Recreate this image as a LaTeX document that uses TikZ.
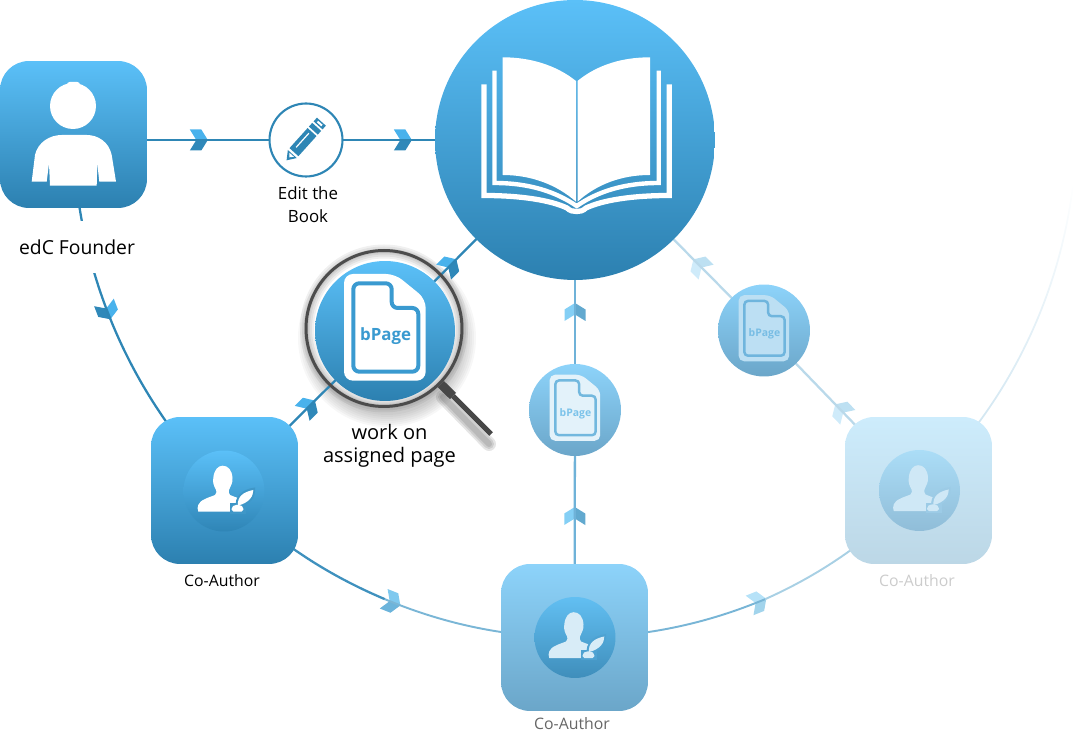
\documentclass[tikz,border=0pt]{standalone}
\usepackage{fontspec}
\setmainfont{Open Sans}
\usetikzlibrary{calc,fadings,decorations.markings}

\pgfdeclarelayer{lensback}
\pgfdeclarelayer{edgeline}
\pgfsetlayers{lensback,edgeline,main}

\definecolor{deeptop}{HTML}{5BC0F8}
\definecolor{deepbot}{HTML}{2C80B0}
\definecolor{midtop}{HTML}{8DD3FA}
\definecolor{midbot}{HTML}{6BA6C9}
\definecolor{palebot}{HTML}{BCD7E6}
\definecolor{paletop}{HTML}{CDECFC}
\definecolor{linedeep}{HTML}{2E86B5}
\definecolor{edgeab}{HTML}{3F91BE}
\definecolor{edgebb}{HTML}{7AB6D6}
\definecolor{edgebc}{HTML}{78B5D6}
\definecolor{edgecb}{HTML}{A8D0E4}
\definecolor{edgeup}{HTML}{C6E0EE}
\definecolor{edgeb}{HTML}{6FB2D8}
\definecolor{edgec}{HTML}{BAD9EA}
\definecolor{chevlighta}{HTML}{49B2EC}
\definecolor{chevdeepa}{HTML}{2F88B9}
\definecolor{chevlightb}{HTML}{7FC9EF}
\definecolor{chevdeepb}{HTML}{6CB4DB}
\definecolor{chevlightm}{HTML}{84CFF5}
\definecolor{chevdeepm}{HTML}{62A9CF}
\definecolor{chevlightn}{HTML}{B6E2F8}
\definecolor{chevdeepn}{HTML}{A2D4EC}
\definecolor{chevlightp}{HTML}{CFEBFA}
\definecolor{chevdeepp}{HTML}{BDE0F2}
\definecolor{discabot}{HTML}{2F85B6}
\definecolor{discbtop}{HTML}{62BFF2}
\definecolor{discbbot}{HTML}{3F8EBB}
\definecolor{discctop}{HTML}{ABDDF7}
\definecolor{disccbot}{HTML}{90BDD8}
\definecolor{gapa}{HTML}{3F97C8}
\definecolor{figb}{HTML}{D8ECF7}
\definecolor{gapb}{HTML}{4EA2D2}
\definecolor{figc}{HTML}{CFE8F6}
\definecolor{gapc}{HTML}{9CCBE6}
\definecolor{pageink}{HTML}{3A9AD0}
\definecolor{sheetb}{HTML}{E3F2FA}
\definecolor{lineb}{HTML}{72B8DE}
\definecolor{textb}{HTML}{7CC3EA}
\definecolor{sheetc}{HTML}{BCDFF3}
\definecolor{linec}{HTML}{6FB5DD}
\definecolor{textc}{HTML}{78BDE4}

\tikzset{
  tile/.style 2 args={rectangle, rounded corners=0.58cm, minimum size=2.94cm, inner sep=0pt,
    top color=#1, bottom color=#2},
  disc/.style n args={3}{circle, minimum size=#1, inner sep=0pt, top color=#2, bottom color=#3},
  caption/.style={align=center, inner sep=0pt, font=\fontsize{10}{13.2}\selectfont},
  flowline/.style={line width=1.3pt},
  flow/.style n args={3}{decoration={markings, mark=at position #1 with {\chevron{#2}{#3}}},
    preaction={decorate}},
  bent/.style={bend right=#1, looseness=0.88},
}

% arrow mark on a connector, light side on the left of the way it goes
\newcommand{\chevron}[2]{
  \fill[#1] (-9,-10.5) -- (2.5,-10.5) -- (9,0) -- (-2.5,0) -- cycle;
  \fill[#2] (-9,10.5) -- (2.5,10.5) -- (9,0) -- (-2.5,0) -- cycle;
}

% author with quill: node, figure colour, colour of the gap
\newcommand{\authoricon}[3]{
  \begin{scope}[shift={(#1)}]
    \fill[#2] (-25.7,20.7) .. controls (-27.5,16) and (-26,11) .. (-19,8) .. controls (-15,6) and (-11,5) .. (-9,4)
      .. controls (-7.5,2) and (-7,0) .. (-8,-1) .. controls (-10,-5) and (-11.5,-8) .. (-10.7,-13)
      .. controls (-10,-21) and (-6,-25.3) .. (-1.3,-25.3) .. controls (4,-25.3) and (8,-21) .. (8.5,-13)
      .. controls (9,-8) and (6.5,-5) .. (5,-1) .. controls (4.5,1) and (5,3) .. (6,4)
      .. controls (9,5.5) and (12,6) .. (16,8) -- (16,20.7) -- cycle;
    \fill[#3] (6,12.5) rectangle (22,23);
    \fill[#3] (12,16) .. controls (10,6) and (18,-2) .. (31,-3.5) .. controls (32,7) and (26,15) .. (12,16);
    \fill[#2] (14,14.5) .. controls (13,6) and (19,1) .. (29.3,-1) .. controls (29.5,5) and (25,12) .. (14,14.5);
    \fill[#2, rounded corners=1pt] (7.7,20.7) -- (7.7,16) -- (10.5,14) -- (16.5,14) -- (19.3,16) -- (19.3,20.7) -- cycle;
  \end{scope}
}

% page: node, scale, sheet colour, line colour, text colour
\newcommand{\pageicon}[5]{
  \begin{scope}[shift={(#1)}, scale=#2]
    \fill[#3, rounded corners=0.18cm*#2] (-41,-57) -- (10,-57) -- (40.7,-32) -- (40.7,49.7) -- (-41,49.7) -- cycle;
    \draw[#4, line width=#2*0.08cm, rounded corners=0.12cm*#2] (-31.7,-47.7) -- (6.7,-47.7) -- (6.7,-23) -- (33.3,-23)
      -- (33.3,40.7) -- (-31.7,40.7) -- cycle;
    \node[#5, transform shape, inner sep=0pt, font=\fontsize{9.6}{11}\selectfont\bfseries] at (0.7,5.5) {bPage};
  \end{scope}
}

\begin{document}
\begin{tikzpicture}[x=0.02cm, y=-0.02cm]
\useasboundingbox (0,0) rectangle (1079,732);

% main shapes
\node (founder)[tile={deeptop}{deepbot}] at (73.5,134.5) {};
\node (book)[disc={5.6cm}{deeptop}{deepbot}] at (575,140) {};
\node (edit)[circle, minimum size=1.46cm, inner sep=0pt, draw=linedeep, line width=1.2pt, fill=white] at (306,140) {};
\node (bpagea)[disc={2.8cm}{deeptop}{deepbot}] at (385,331) {};
\node (bpageb)[disc={1.84cm}{midtop}{midbot}] at (575,410) {};
\node (bpagec)[disc={1.84cm}{midtop}{midbot}] at (764,330.5) {};
\node (coauthora)[tile={deeptop}{deepbot}] at (224.5,490.5) {};
\node (coauthorb)[tile={midtop}{midbot}] at (574.5,637.5) {};
\node (coauthorc)[tile={paletop}{palebot}] at (918.5,490.5) {};

% lens
\node (lensring)[circle, minimum size=3.12cm, inner sep=0pt, draw=black!70, line width=1.7pt] at (384,328.5) {};
\coordinate (handlemid) at (453,396);
\coordinate (handleend) at (491,434);
\coordinate (handleshadow) at (489,444);
\begin{pgfonlayer}{lensback}
  \foreach \r in {89,87,...,77} \fill[black, opacity=0.03] (387,338) circle (\r);
  \fill[white] (lensring) circle (78);
  \foreach \w in {14,10,6,3} \draw[black, opacity=0.06, line width=\w*0.02cm] (lensring) circle (77);
  \foreach \w in {14,10,6} \draw[black, opacity=0.1, line width=\w*0.02cm, line cap=round] (443,397) -- (handleshadow);
\end{pgfonlayer}
\draw[black!72, line width=5pt] (lensring) -- (handlemid);
\draw[black!72, line width=3pt] (handlemid) -- (handleend);

% connectors
\coordinate (midab) at ($(book)+(112.5:497)$);
\coordinate (midbc) at ($(book)+(67.5:497)$);
\coordinate (fadeend) at ($(book)+(5:500)$);
\begin{pgfonlayer}{edgeline}
  \draw[flowline, linedeep, flow={0.539}{chevlighta}{chevdeepa}] (founder.center |- edit.center) -- (edit.center);
  \draw[flowline, linedeep, flow={0.36}{chevlighta}{chevdeepa}] (edit.center) -- (book.center);
  \draw[flowline, linedeep, flow={0.455}{chevlighta}{chevdeepa}] (founder.center) to[bent=22.5] (coauthora.center);
  \draw[flowline, linedeep, flow={0.525}{chevlighta}{chevdeepa}] (coauthora.center) -- (bpagea.center);
  \draw[flowline, linedeep, flow={0.342}{chevlighta}{chevdeepa}] (bpagea.center) -- (book.center);
  \draw[flowline, color=edgeab] (coauthora.center) to[bent=11.25] (midab);
  \draw[flowline, color=edgebb, line width=1.1pt, flow={0.04}{chevlightb}{chevdeepb}] (midab) to[bent=11.25] (coauthorb.center);
  \draw[flowline, color=edgebc, line width=1.1pt, flow={0.96}{chevlightn}{chevdeepn}] (coauthorb.center) to[bent=11.25] (midbc);
  \draw[flowline, color=edgecb, line width=1.1pt] (midbc) to[bent=11.25] (coauthorc.center);
  \draw[flowline, color=edgeup, line width=1pt, path fading=north] (coauthorc.center) to[bent=20] (fadeend);
  \draw[flowline, color=edgeb, flow={0.534}{chevlightm}{chevdeepm}] (coauthorb.center) -- (bpageb.center);
  \draw[flowline, color=edgeb, flow={0.363}{chevlightm}{chevdeepm}] (bpageb.center) -- (book.center);
  \draw[flowline, color=edgec, flow={0.5}{chevlightp}{chevdeepp}] (coauthorc.center) -- (bpagec.center);
  \draw[flowline, color=edgec, flow={0.34}{chevlightp}{chevdeepp}] (bpagec.center) -- (book.center);
\end{pgfonlayer}

% founder
\fill[white] (73,106) circle (23);
\fill[white, rounded corners=1.5pt] (67,82) rectangle (80,90);
\fill[white] (31.7,181.7) -- (35,155) .. controls (38,142) and (50,135) .. (61.7,135) -- (86.7,135)
  .. controls (98,135) and (109,142) .. (111.7,155) -- (116,181.7) -- (99.3,181.7) -- (97.3,163.3)
  -- (96.7,185.7) -- (50,185.7) -- (49,163.3) -- (46.7,181.7) -- cycle;

% book
\fill[white] (502.7,57.3) .. controls (530,57.3) and (556,65) .. (576,81) -- (576,201.7)
  .. controls (556,184) and (530,175) .. (502.7,175) -- cycle;
\fill[white] (650,57.3) .. controls (622,57.3) and (597,65) .. (577.5,81) -- (577.5,201.7)
  .. controls (597,184) and (622,175) .. (650,175) -- cycle;
\draw[white, line width=2.5pt] (494.5,70.7) -- (494.5,183) .. controls (530,183) and (556,192) .. (576.7,206)
  .. controls (597,192) and (623,183) .. (658.7,183) -- (658.7,70.7);
\draw[white, line width=3pt] (484,84.3) -- (484,195.5) .. controls (520,195.5) and (550,200) .. (567,208)
  .. controls (570,211) and (573,211.5) .. (576.7,211.5) .. controls (580,211.5) and (583,211) .. (586,208)
  .. controls (603,200) and (633,195.5) .. (669.3,195.5) -- (669.3,84.3);

% pencil
\begin{scope}[shift={(304,141)}, rotate=48]
  \fill[linedeep] (-15,-6) -- (12,-6) -- (12,6) -- (-15,6) -- cycle;
  \fill[white] (-10,-2.2) rectangle (9,-1);
  \fill[linedeep] (-26,0) -- (-17.5,-6) -- (-17.5,6) -- cycle;
  \fill[white] (-22,0) -- (-18.5,-3) -- (-18.5,3) -- cycle;
  \fill[linedeep] (14,-6) rectangle (19,6);
  \fill[linedeep] (21,-6) rectangle (26,6);
  \fill[white] (22.5,-3) rectangle (24.5,3);
\end{scope}

% inner discs and icons
\node (authora)[disc={1.62cm}{deeptop}{discabot}] at (224,491) {};
\node (authorb)[disc={1.62cm}{discbtop}{discbbot}] at (575,637.5) {};
\node (authorc)[disc={1.62cm}{discctop}{disccbot}] at (919.5,490.5) {};
\authoricon{authora}{white}{gapa}
\authoricon{authorb}{figb}{gapb}
\authoricon{authorc}{figc}{gapc}
\pageicon{bpagea}{1}{white}{pageink}{pageink}
\pageicon{bpageb}{0.62}{sheetb}{lineb}{textb}
\pageicon{bpagec}{0.62}{sheetc}{linec}{textc}

% labels
\node (founderlabel)[caption, fill=white, minimum height=1.04cm, font=\fontsize{11}{14}\selectfont] at (77,247) {edC Founder};
\node (editlabel)[caption, font=\fontsize{9.6}{13}\selectfont] at (308,205) {Edit the\\Book};
\node (pagelabel)[caption, font=\fontsize{11.4}{13.4}\selectfont] at (389.5,446) {work on\\assigned page};
\node (labela)[caption, font=\fontsize{9}{10}\selectfont] at (222,581) {Co-Author};
\node (labelb)[caption, text=black!60, font=\fontsize{9}{10}\selectfont] at (572,724) {Co-Author};
\node (labelc)[caption, text=black!20, font=\fontsize{9}{10}\selectfont] at (917,581) {Co-Author};

\end{tikzpicture}
\end{document}
